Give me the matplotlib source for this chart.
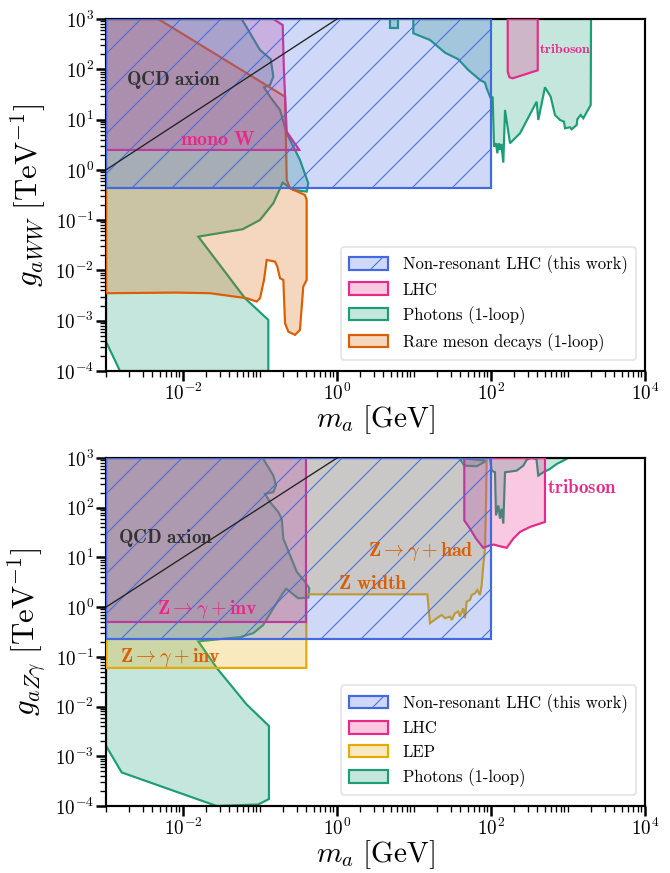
import numpy as np
import matplotlib
matplotlib.use('Agg')
import matplotlib.pyplot as plt
from matplotlib.patches import Patch
from matplotlib.colors import to_rgba
from matplotlib.ticker import (LogLocator, NullFormatter, LogFormatterSciNotation,
                               FixedLocator)

plt.rcParams['font.family'] = 'serif'
plt.rcParams['font.serif'] = ['cmr10', 'DejaVu Serif']
plt.rcParams['mathtext.fontset'] = 'cm'
plt.rcParams['axes.formatter.use_mathtext'] = True
plt.rcParams['hatch.linewidth'] = 0.6

# ---------------- colours ----------------
C_BLUE = '#4169e1'
C_PINK = '#e7298a'
C_GREEN = '#1b9e77'
C_ORANGE = '#d95f02'
C_LEP = '#e6ab02'
C_TEXT = '#333333'

# ---------------- axes ranges / ticks ----------------
m_lim = (1e-3, 1e4)
g_lim = (1e-4, 1e3)
m_major_ticks = [1e-2, 1e0, 1e2, 1e4]
g_major_ticks = [1e-4, 1e-3, 1e-2, 1e-1, 1e0, 1e1, 1e2, 1e3]

# ---------------- data (log10 of m_a [GeV] and g [TeV^-1]) ----------------
# Top panel: g_aWW
nonres_WW_logm = [-3, 2, 2, -3]
nonres_WW_logg = [-0.366, -0.366, 3, 3]

monoW_logm = [-3, -0.827, -0.705, -0.69, -0.653, -0.49, -3]
monoW_logg = [3, 3, 2.88, 2.0, 0.76, 0.396, 0.396]

tribosonW_logm = [2.217, 2.217, 2.24, 2.28, 2.607, 2.607]
tribosonW_logg = [3, 1.95, 1.84, 1.82, 1.98, 3]

photW_main_logm = [-3, -3, -2.818, -0.892, -0.892, -1.195, -1.801, -1.225, -1.0, -0.827,
                   -0.705, -0.568, -0.394, -0.373, -0.481, -0.653, -0.74, -0.87, -0.948,
                   -0.87, -0.827, -0.86, -1.0, -1.238]
photW_main_logg = [3, -3.416, -4.0, -4.0, -2.984, -2.553, -1.328, -1.181, -0.996, -0.664,
                   -0.254, -0.4, -0.433, -0.266, 0.197, 0.728, 1.191, 1.455, 1.642,
                   1.688, 1.853, 2.2, 2.384, 3]

photW_high_logm = [0.991, 0.991, 1.208, 1.403, 1.575, 1.705, 1.857, 1.922, 1.944, 1.996,
                   2.022, 2.039, 2.065, 2.082, 2.1, 2.117, 2.134, 2.16, 2.182, 2.247,
                   2.377, 2.593, 2.614, 2.701, 2.775, 2.831, 2.896, 2.948, 2.961, 3.026,
                   3.048, 3.113, 3.121, 3.165, 3.199, 3.295, 3.299]
photW_high_logg = [3, 2.716, 2.583, 2.33, 2.199, 1.986, 1.787, 1.734, 1.622, 1.423,
                   1.455, 0.461, 0.529, 0.33, 0.529, 0.396, 0.515, 0.143, 1.191, 0.529,
                   0.728, 1.356, 0.992, 1.642, 1.455, 1.091, 0.992, 0.958, 0.827, 0.847,
                   0.807, 0.893, 1.006, 1.091, 1.026, 1.29, 3]

photW_small_logm = [0.688, 0.796, 0.796, 0.688]
photW_small_logg = [3, 3, 2.815, 2.815]

meson_logm = [-3, -2.321, -0.675, -0.653, -0.61, -0.416, -0.394, -0.394, -0.438, -0.481,
              -0.545, -0.632, -0.675, -0.697, -0.74, -0.775, -0.805, -0.913, -0.948,
              -1.0, -1.043, -1.173, -1.649, -2.082, -3]
meson_logg = [3, 3, 1.455, -0.2, -0.366, -0.499, -0.598, -2.189, -2.322, -3.183,
              -3.282, -3.217, -3.05, -2.189, -2.155, -1.924, -1.825, -1.791, -2.189,
              -2.553, -2.62, -2.553, -2.453, -2.441, -2.453]

# Bottom panel: g_aZgamma
nonres_Zg_logm = [-3, 2, 2, -3]
nonres_Zg_logg = [-0.637, -0.637, 3, 3]

lhc_Zinv_logm = [-3, -0.398, -0.398, -3]
lhc_Zinv_logg = [-0.289, -0.289, 3, 3]

tribosonZ_logm = [1.653, 1.653, 1.727, 1.805, 1.9, 1.987, 2.039, 2.095, 2.204, 2.29,
                  2.377, 2.506, 2.701, 2.701]
tribosonZ_logg = [3, 1.745, 1.579, 1.379, 1.193, 1.245, 1.259, 1.233, 1.193, 1.379,
                  1.513, 1.613, 1.713, 3]

lep_logm = [-3, -0.398, -0.398, 1.173, 1.208, 1.295, 1.36, 1.403, 1.468, 1.49, 1.532,
            1.575, 1.597, 1.64, 1.662, 1.684, 1.727, 1.749, 1.792, 1.822, 1.857, 1.879,
            1.9, 1.922, 1.935, 1.944, -3]
lep_logg = [-1.223, -1.223, 0.258, 0.258, -0.323, -0.223, -0.157, -0.223, -0.19, -0.257,
            -0.122, -0.088, -0.19, -0.022, -0.223, 0.112, 0.144, 0.244, 0.278, 0.344,
            0.244, 0.444, 0.844, 1.179, 2.045, 3, 3]

photZ_main_logm = [-3, -0.965, -0.827, -0.792, -0.827, -0.935, -0.87, -0.762, -0.718,
                   -0.697, -0.61, -0.523, -0.416, -0.36, -0.373, -0.503, -0.66, -0.718,
                   -0.827, -0.957, -1.087, -1.26, -1.519, -1.801, -1.562, -1.173, -0.884,
                   -0.884, -1.023, -1.562, -2.796, -3]
photZ_main_logg = [3, 3, 2.646, 2.446, 2.313, 2.279, 2.113, 1.913, 1.779,
                   1.379, 1.044, 0.712, 0.512, 0.378, 0.192, 0.178, 0.37, 0.244,
                   -0.022, -0.357, -0.523, -0.603, -0.643, -0.689, -1.223, -1.958, -2.39,
                   -3.86, -3.97, -4.0, -3.325, -2.79]

photZ_a_logm = [1.588, 1.653, 1.814, 1.944]
photZ_a_logg = [3, 2.846, 2.834, 2.946]

photZ_b_logm = [1.987, 2.008, 2.052, 2.065, 2.095, 2.117, 2.138, 2.16, 2.182, 2.333,
                2.42, 2.464, 2.52, 2.59, 2.614, 2.679, 2.766, 2.853, 2.939, 3.004]
photZ_b_logg = [3, 2.746, 2.713, 1.845, 2.045, 1.78, 1.98, 1.68, 2.713, 2.746,
                2.846, 2.966, 3.0, 2.98, 2.646, 2.713, 2.78, 2.88, 2.946, 3.0]

qcd_logm = [-3, 0.2]

# ---------------- plotting helpers ----------------
def region(ax, logm, logg, color, z, hatch=None, lw=1.3):
    m = 10.0 ** np.asarray(logm)
    g = 10.0 ** np.asarray(logg)
    ax.fill(m, g, facecolor=to_rgba(color, 0.25), edgecolor=color,
            linewidth=lw, hatch=hatch, zorder=z)


def style_axes(ax, ylabel, xlab_y):
    ax.set_xscale('log')
    ax.set_yscale('log')
    ax.set_xlim(*m_lim)
    ax.set_ylim(*g_lim)
    ax.xaxis.set_major_locator(FixedLocator(m_major_ticks))
    ax.xaxis.set_major_formatter(LogFormatterSciNotation(base=10))
    ax.xaxis.set_minor_locator(LogLocator(base=10, subs=np.arange(1, 10), numticks=40))
    ax.xaxis.set_minor_formatter(NullFormatter())
    ax.yaxis.set_major_locator(FixedLocator(g_major_ticks))
    ax.yaxis.set_major_formatter(LogFormatterSciNotation(base=10))
    ax.yaxis.set_minor_locator(LogLocator(base=10, subs=np.arange(2, 10), numticks=40))
    ax.yaxis.set_minor_formatter(NullFormatter())
    ax.tick_params(which='major', direction='out', length=5.8, width=1.5, labelsize=11.5,
                   pad=1.5, top=False, right=False)
    ax.tick_params(which='minor', direction='out', length=3.8, width=0.8,
                   top=False, right=False)
    for s in ax.spines.values():
        s.set_linewidth(1.3)
    ax.set_xlabel(r'$m_a\ [\mathrm{GeV}]$', fontsize=17.5)
    ax.set_ylabel(ylabel, fontsize=18.5)
    ax.xaxis.set_label_coords(0.5, xlab_y)
    ax.yaxis.set_label_coords(-0.108, 0.5)


def qcd_line(ax):
    m = 10.0 ** np.asarray(qcd_logm)
    ax.plot(m, 1e3 * m, color='#222222', lw=0.8, zorder=6)


def legend(ax, handles):
    ax.legend(handles=handles, loc='lower right', fontsize=10, frameon=True,
              fancybox=True, framealpha=0.8, edgecolor='#dddddd', handlelength=2.3,
              handleheight=0.8, borderpad=0.5, labelspacing=0.5, handletextpad=0.9,
              borderaxespad=0, bbox_to_anchor=(0.983, 0.031))


fig = plt.figure(figsize=(670 / 120, 873 / 120), dpi=120)
W, H = 670, 873
ax1 = fig.add_axes([106 / W, 1 - 371 / H, (645 - 106) / W, (371 - 19) / H])
ax2 = fig.add_axes([106 / W, 1 - 806 / H, (645 - 106) / W, (806 - 458) / H])

# ---- top panel ----
region(ax1, photW_main_logm, photW_main_logg, C_GREEN, 2)
region(ax1, photW_high_logm, photW_high_logg, C_GREEN, 2)
region(ax1, photW_small_logm, photW_small_logg, C_GREEN, 2)
region(ax1, meson_logm, meson_logg, C_ORANGE, 3)
region(ax1, monoW_logm, monoW_logg, C_PINK, 4)
region(ax1, tribosonW_logm, tribosonW_logg, C_PINK, 4)
region(ax1, nonres_WW_logm, nonres_WW_logg, C_BLUE, 5, hatch='/')
qcd_line(ax1)
style_axes(ax1, r'$g_{aWW}\ [\mathrm{TeV}^{-1}]$', -0.092)

ax1.text(10 ** -2.117, 10 ** 1.787, r'$\mathbf{QCD\ axion}$', color=C_TEXT,
         fontsize=11.5, ha='center', va='center', zorder=7)
ax1.text(10 ** -1.55, 10 ** 0.594, r'$\mathbf{mono\ W}$', color=C_PINK,
         fontsize=12, ha='center', va='center', zorder=7)
ax1.text(10 ** 2.96, 10 ** 2.384, r'$\mathbf{triboson}$', color=C_PINK,
         fontsize=8.4, ha='center', va='center', zorder=7)

h1 = [Patch(facecolor=to_rgba(C_BLUE, 0.25), edgecolor=C_BLUE, hatch='/', lw=1.3,
            label='Non-resonant LHC (this work)'),
      Patch(facecolor=to_rgba(C_PINK, 0.25), edgecolor=C_PINK, lw=1.3, label='LHC'),
      Patch(facecolor=to_rgba(C_GREEN, 0.25), edgecolor=C_GREEN, lw=1.3,
            label='Photons (1-loop)'),
      Patch(facecolor=to_rgba(C_ORANGE, 0.25), edgecolor=C_ORANGE, lw=1.3,
            label='Rare meson decays (1-loop)')]
legend(ax1, h1)

# ---- bottom panel ----
region(ax2, photZ_main_logm, photZ_main_logg, C_GREEN, 2)
region(ax2, photZ_a_logm, photZ_a_logg, C_GREEN, 2)
region(ax2, photZ_b_logm, photZ_b_logg, C_GREEN, 2)
region(ax2, lep_logm, lep_logg, C_LEP, 3)
region(ax2, lhc_Zinv_logm, lhc_Zinv_logg, C_PINK, 4)
region(ax2, tribosonZ_logm, tribosonZ_logg, C_PINK, 4)
region(ax2, nonres_Zg_logm, nonres_Zg_logg, C_BLUE, 5, hatch='/')
qcd_line(ax2)
style_axes(ax2, r'$g_{aZ\gamma}\ [\mathrm{TeV}^{-1}]$', -0.093)

ax2.text(10 ** -2.23, 10 ** 1.393, r'$\mathbf{QCD\ axion}$', color=C_TEXT,
         fontsize=11.5, ha='center', va='center', zorder=7)
ax2.text(10 ** -1.688, 10 ** -0.057, r'$\mathbf{Z\rightarrow\gamma+inv}$', color=C_PINK,
         fontsize=12, ha='center', va='center', zorder=7)
ax2.text(10 ** -2.158, 10 ** -1.009, r'$\mathbf{Z\rightarrow\gamma+inv}$', color=C_ORANGE,
         fontsize=12, ha='center', va='center', zorder=7)
ax2.text(10 ** 0.472, 10 ** 0.458, r'$\mathbf{Z\ width}$', color=C_ORANGE,
         fontsize=12, ha='center', va='center', zorder=7)
ax2.text(10 ** 1.095, 10 ** 1.112, r'$\mathbf{Z\rightarrow\gamma+had}$', color=C_ORANGE,
         fontsize=12, ha='center', va='center', zorder=7)
ax2.text(10 ** 3.178, 10 ** 2.393, r'$\mathbf{triboson}$', color=C_PINK,
         fontsize=11.4, ha='center', va='center', zorder=7)

h2 = [Patch(facecolor=to_rgba(C_BLUE, 0.25), edgecolor=C_BLUE, hatch='/', lw=1.3,
            label='Non-resonant LHC (this work)'),
      Patch(facecolor=to_rgba(C_PINK, 0.25), edgecolor=C_PINK, lw=1.3, label='LHC'),
      Patch(facecolor=to_rgba(C_LEP, 0.25), edgecolor=C_LEP, lw=1.3, label='LEP'),
      Patch(facecolor=to_rgba(C_GREEN, 0.25), edgecolor=C_GREEN, lw=1.3,
            label='Photons (1-loop)')]
legend(ax2, h2)

fig.savefig('out.png', dpi=120)
